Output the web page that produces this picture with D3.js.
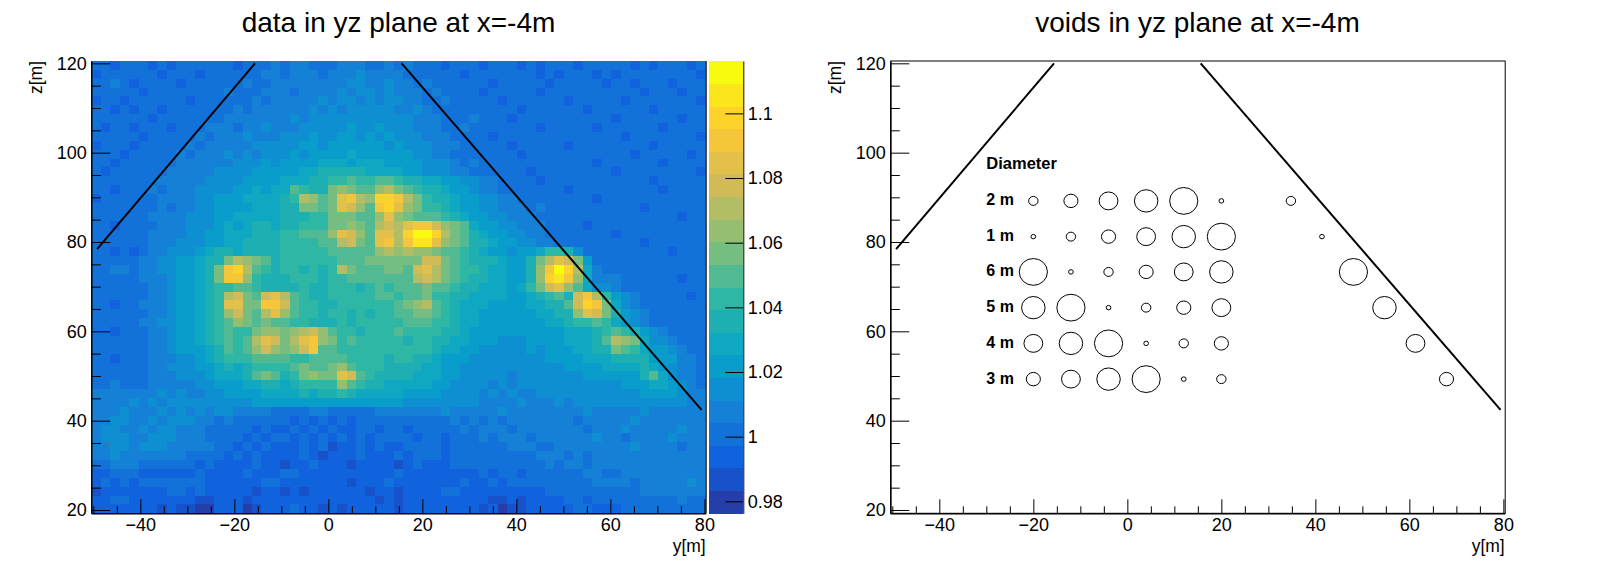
<!DOCTYPE html>
<html>
<head>
<meta charset="utf-8">
<script src="https://cdn.jsdelivr.net/npm/d3@7"></script>
<style>
  html, body { margin: 0; padding: 0; background: #fff; }
  svg { display: block; }
  text { font-family: "Liberation Sans", Arial, sans-serif; fill: #000; }
</style>
</head>
<body>
<script>
// heat map on a 2 m grid: one char per cell = colour band 0-19
// rows run from z=120 down to z=20, groups of five cover 10 m of y
const levelRows = [
  "33233 32323 33333 23334 34433 34443 34343 33233 32333 23233 32333 33232 33323",
  "23333 33233 32333 33344 34443 44454 44433 33332 33333 33232 33323 23333 33332",
  "33432 33332 33333 34334 44444 44554 45443 43333 33233 33323 33332 33233 32333",
  "33333 23333 33334 33344 43444 45455 45444 34333 32333 33233 33333 33323 33233",
  "23323 33333 23333 33434 44445 45545 45544 33433 33323 33333 23333 32333 33332",
  "33232 33233 33333 43444 44454 54555 55445 43333 33333 23333 33233 33332 33333",
  "33333 32333 33334 44444 45455 55555 55554 44333 43332 33333 33333 23333 33233",
  "32332 33323 33444 34454 44555 55655 65554 44334 33333 33233 33323 33333 23333",
  "33333 23333 34344 45444 55565 56656 56555 44433 33233 33333 33333 32333 33332",
  "23332 33333 43444 44555 55665 66666 65655 54443 33332 33333 23333 33332 33333",
  "33323 33334 34445 45455 56566 66766 66665 54433 33333 23333 33333 33233 33323",
  "33233 33334 44444 55565 66667 77677 76666 55543 43333 33333 33323 33333 23333",
  "32333 33344 44455 55666 66778 88887 77766 55544 33333 32333 33333 23333 33332",
  "33333 33444 44555 56666 77788 99a99 aa988 77665 54433 33233 33333 33332 33333",
  "33233 34344 45555 66767 7a988 bcbaa cdba9 88766 54433 33333 23333 33333 23333",
  "23333 33444 45566 67777 89dca bfgdc hhgdb 98876 65544 33333 33323 33333 33333",
  "33333 33434 45566 66777 88bba bfeca ghfcb 99876 65544 43433 33333 33323 33333",
  "33333 34444 55566 77777 88899 bbbaa cfcba aa987 66554 44333 33333 33333 33233",
  "33233 33444 55567 67887 88999 bbcba dedfg gecba 76655 44433 33233 33333 33333",
  "33333 34444 55667 77888 99aaa cfeca ffdhj jhdba 87665 54433 33333 23333 33333",
  "33333 34445 55667 78888 9999a adeba fgdgi ifcba 88766 55443 33333 33323 33333",
  "33232 34455 56788 78888 99999 aaaaa cdcdc cbaa9 87665 66799 85333 33333 32333",
  "33333 44556 6788b dcba8 99999 9aaab bbbbb eeba9 88876 68bdf eb633 33333 33333",
  "33443 44556 678bg hda98 99898 9dbaa abbae fdba9 98776 68cgj hd743 33333 33333",
  "33333 44456 678bg gc988 89998 99aaa aaaad edba9 88776 68chi gc744 43333 33233",
  "33333 34456 67899 aa988 88988 99989 a9aaa baa98 87776 79bef ca755 43333 33333",
  "33333 34456 6789d ebaef da988 99999 aa9aa b9988 77776 6789a 8egd9 65433 33323",
  "33233 44456 6789f fbbgg ea998 89999 99abc da987 77666 67788 aehgb 75433 33333",
  "33333 34456 6789c ebadf ca998 99898 99aab ba987 76666 66778 8cfeb 86543 33333",
  "33333 44556 6789a cbaba a9988 89899 999aa a9987 76666 66677 899a9 76543 33333",
  "33233 34456 6789a 99bcc bcdec a9989 99a99 99887 66666 66666 77789 a9865 43333",
  "33333 34456 6789a 9adfe bdfgc b9a99 99989 98877 66655 56666 7778a dcb75 54333",
  "33333 34456 6678a 9acec bcega a9999 99999 98776 65555 56566 67788 ba976 65433",
  "33233 34445 56789 99aaa a99aa aa999 98998 87666 55555 55566 66777 88886 66443",
  "33333 34455 56678 78999 9abaa bca99 98888 77665 55555 55555 66667 77787 65443",
  "33333 34445 55677 78aba 89bcb bfea9 88887 77665 55554 55555 55666 6668a 75443",
  "33433 34444 45566 67788 78999 9ca98 87777 76655 55454 55555 55555 56667 76543",
  "44444 44545 44556 66677 77878 89877 77766 66555 54545 44555 55555 55566 66544",
  "44445 45455 55555 55666 66666 66666 66655 55555 54444 54445 45555 55555 55544",
  "44454 44545 45455 44443 33344 33333 44444 44544 44454 44444 44544 44454 44444",
  "44554 45455 54434 33333 32323 23233 33333 33343 43434 44444 43444 44544 44444",
  "45544 54554 44333 33232 23232 32233 23323 33334 34443 44444 44344 45444 44544",
  "45554 45554 44333 32323 32323 23232 33332 33233 34344 43444 44454 43444 45444",
  "44554 55544 44433 23232 22323 12232 32233 33233 33334 44334 44444 44544 44344",
  "44544 44444 33332 32322 22321 22232 22323 33233 33333 33444 34344 44444 44444",
  "33444 33333 32322 22322 12232 22122 22123 22233 33333 33343 44344 44444 44444",
  "22333 22222 23222 23222 33222 22222 22322 22222 23233 23333 33443 34444 44444",
  "23232 33333 33222 22233 22222 22122 23222 22223 22323 33333 33344 44344 44454",
  "12222 22233 23222 22122 12122 22221 22122 22332 22222 22233 33333 33344 44444",
  "22332 22222 21122 21222 22222 22222 12122 22222 22112 12222 33233 33333 33433",
  "22222 22121 10022 20122 23221 21222 22122 22222 21201 12222 23322 23333 33333"
];

const yTicks = [-40, -20, 0, 20, 40, 60, 80];
const yMinor = [-50, -45, -35, -30, -25, -15, -10, -5, 5, 10, 15, 25, 30, 35, 45, 50, 55, 65, 70, 75];
const zTicks = [20, 40, 60, 80, 100, 120];
const zMinor = [25, 30, 35, 45, 50, 55, 65, 70, 75, 85, 90, 95, 105, 110, 115];
const barTicks = [0.98, 1, 1.02, 1.04, 1.06, 1.08, 1.1];

const slopeLeft = [[-49.2, 78.4], [-15.6, 120]];
const slopeRight = [[15.6, 120], [79.4, 42.4]];

// voids: y, z, diameter in m
const voidY = [-20, -12, -4, 4, 12, 20];
const voidZ = [89.2, 81.2, 73.3, 65.3, 57.3, 49.3];
const voidDiam = [
  [2, 3, 4, 5, 6, 1],
  [1, 2, 3, 4, 5, 6],
  [6, 1, 2, 3, 4, 5],
  [5, 6, 1, 2, 3, 4],
  [4, 5, 6, 1, 2, 3],
  [3, 4, 5, 6, 1, 2]
];
const rowLabels = ["2 m", "1 m", "6 m", "5 m", "4 m", "3 m"];
const edgeY = [34.8, 41.4, 48.1, 54.7, 61.3, 67.9];
const edgeZ = [89.2, 81.2, 73.3, 65.3, 57.3, 49.3];
const edgeDiam = [2, 1, 6, 5, 4, 3];

// ROOT kBird palette stops
const birdStops = [0, 0.125, 0.25, 0.375, 0.5, 0.625, 0.75, 0.875, 1];
const birdColors = ["#352a87", "#0f5cdd", "#1481d6", "#06a4ca", "#2eb7a4", "#87bf77", "#d1bb59", "#fec832", "#f9fb0e"];

const barMin = 0.9763, barMax = 1.1162, nBands = 20;

const svg = d3.select("body").append("svg").attr("width", 1598).attr("height", 576);

const plotTop = 61, plotBottom = 513.3, plotWidth = 614.4;
const labelSize = "18px";

function drawAxes(g, x, z) {
  g.append("g").attr("transform", "translate(0," + plotBottom + ")")
    .call(d3.axisBottom(x).tickValues(yMinor).tickSize(-7).tickSizeOuter(0).tickFormat(""));
  g.append("g").attr("transform", "translate(0," + plotBottom + ")")
    .call(d3.axisBottom(x).tickValues(yTicks).tickSize(-14).tickSizeOuter(0).tickPadding(5));
  g.append("g").call(d3.axisLeft(z).tickValues(zMinor).tickSize(-9.5).tickSizeOuter(0).tickFormat(""));
  g.append("g").call(d3.axisLeft(z).tickValues(zTicks).tickSize(-19).tickSizeOuter(0).tickPadding(4.6));
  g.selectAll(".tick text").style("font-size", labelSize);

  g.append("text")
    .attr("transform", "translate(" + plotWidth + ",552)")
    .style("text-anchor", "end").style("font-size", "17.5px").text("y[m]");
  g.append("text")
    .attr("transform", "translate(-49," + plotTop + ") rotate(-90)")
    .style("text-anchor", "end").style("font-size", "17.5px").text("z[m]");
}

function addTitle(g, label) {
  g.append("text")
    .attr("x", plotWidth / 2).attr("y", 31.7)
    .style("text-anchor", "middle").style("font-size", "28px").text(label);
}

function drawSlopes(g, x, z) {
  const line = d3.line().x(d => x(d[0])).y(d => z(d[1]));
  [slopeLeft, slopeRight].forEach(s => {
    g.append("path").attr("d", line(s)).attr("fill", "none").attr("stroke", "#000").attr("stroke-width", 2);
  });
}

const x = d3.scaleLinear().domain([-50.43, 80.28]).range([0, plotWidth]);
const z = d3.scaleLinear().domain([19.26, 120.52]).range([plotBottom, plotTop]);

// left panel
const left = svg.append("g").attr("transform", "translate(91.3,0)");

const bird = d3.scaleLinear().domain(birdStops).range(birdColors);
const palette = d3.range(nBands).map(i => bird((i + 0.99) / nBands));
const color = d3.scaleQuantize().domain([barMin, barMax]).range(palette);
const bandStep = (barMax - barMin) / nBands;

const cells = [];
levelRows.forEach((row, r) => {
  row.replace(/ /g, "").split("").forEach((c, i) => {
    cells.push({row: r, col: i, value: barMin + (parseInt(c, 20) + 0.5) * bandStep});
  });
});

const colBand = d3.scaleBand().domain(d3.range(65)).range([0, plotWidth]);
const rowBand = d3.scaleBand().domain(d3.range(levelRows.length)).range([plotTop, plotBottom]);

left.append("g").selectAll("rect")
  .data(cells)
  .enter().append("rect")
  .attr("x", d => colBand(d.col))
  .attr("y", d => rowBand(d.row))
  .attr("width", colBand.bandwidth() + 0.4)
  .attr("height", rowBand.bandwidth() + 0.4)
  .attr("shape-rendering", "crispEdges")
  .attr("fill", d => color(d.value));

left.append("line")
  .attr("x1", plotWidth + 0.5).attr("x2", plotWidth + 0.5)
  .attr("y1", plotTop).attr("y2", plotBottom)
  .attr("stroke", "#000");

drawAxes(left, x, z);
drawSlopes(left, x, z);
addTitle(left, "data in yz plane at x=-4m");

// colour bar
const barX = 617.7, barW = 34.3;
const barScale = d3.scaleLinear().domain([barMin, barMax]).range([plotBottom, plotTop]);
left.append("g").selectAll("rect")
  .data(palette)
  .enter().append("rect")
  .attr("x", barX)
  .attr("y", (d, i) => barScale(barMin + (i + 1) * bandStep))
  .attr("width", barW)
  .attr("height", barScale(barMin) - barScale(barMin + bandStep) + 0.4)
  .attr("shape-rendering", "crispEdges")
  .attr("fill", d => d);
const barAxis = left.append("g").attr("transform", "translate(" + (barX + barW) + ",0)")
  .call(d3.axisRight(barScale).tickValues(barTicks).tickSize(-18).tickSizeOuter(0).tickPadding(4.4).tickFormat(d => String(d)));
barAxis.selectAll("text").style("font-size", labelSize);

// right panel
const right = svg.append("g").attr("transform", "translate(890.3,0)");

right.append("rect")
  .attr("x", 0.5).attr("y", plotTop)
  .attr("width", plotWidth).attr("height", plotBottom - plotTop)
  .attr("fill", "none").attr("stroke", "#000");

drawAxes(right, x, z);
drawSlopes(right, x, z);
addTitle(right, "voids in yz plane at x=-4m");

const voids = [];
voidDiam.forEach((row, r) => row.forEach((d, c) => voids.push({y: voidY[c], z: voidZ[r], d: d})));
edgeDiam.forEach((d, i) => voids.push({y: edgeY[i], z: edgeZ[i], d: d}));

right.append("g").selectAll("ellipse")
  .data(voids)
  .enter().append("ellipse")
  .attr("cx", d => x(d.y))
  .attr("cy", d => z(d.z))
  .attr("rx", d => x(d.d / 2) - x(0))
  .attr("ry", d => z(0) - z(d.d / 2))
  .attr("fill", "none")
  .attr("stroke", "#000")
  .attr("stroke-width", 1);

right.append("text")
  .attr("x", x(-30)).attr("y", 169)
  .style("font-size", "16.5px").style("font-weight", "bold").text("Diameter");

right.append("g").selectAll("text")
  .data(rowLabels)
  .enter().append("text")
  .attr("x", x(-30))
  .attr("y", (d, i) => z(voidZ[i]) + 4.4)
  .style("font-size", "16px").style("font-weight", "bold")
  .text(d => d);
</script>
</body>
</html>
